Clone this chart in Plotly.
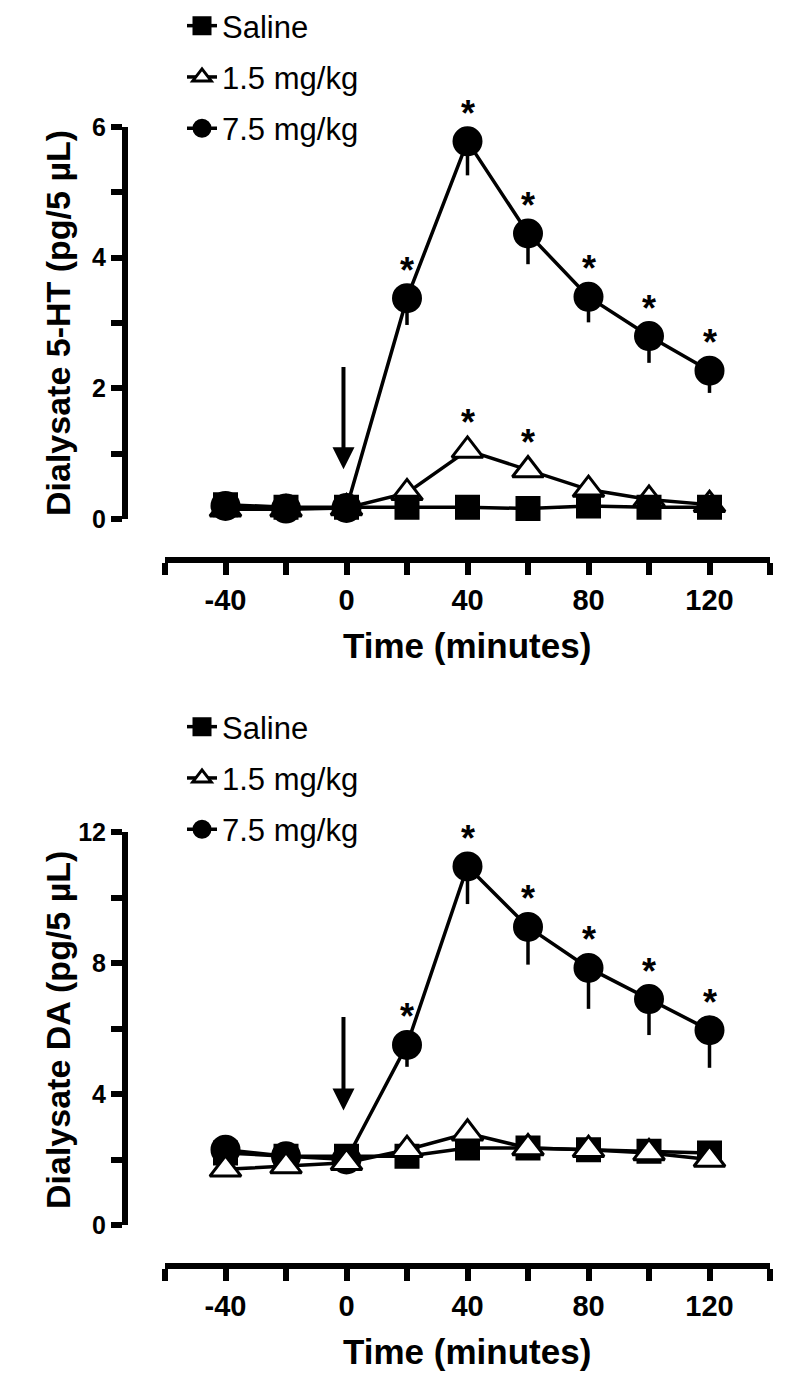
import plotly.graph_objects as go

# ---------------- data ----------------
time_min = [-40, -20, 0, 20, 40, 60, 80, 100, 120]
series_names = ["Saline", "1.5 mg/kg", "7.5 mg/kg"]

# Panel A: Dialysate 5-HT (pg/5 uL)
ht_saline = [0.22, 0.18, 0.18, 0.18, 0.18, 0.16, 0.20, 0.18, 0.18]
ht_low = [0.15, 0.15, 0.17, 0.40, 1.05, 0.75, 0.45, 0.30, 0.22]
ht_high = [0.20, 0.16, 0.17, 3.38, 5.78, 4.37, 3.40, 2.80, 2.27]
ht_high_err = [0, 0, 0, 0.41, 0.52, 0.47, 0.39, 0.41, 0.34]
ht_star_high = [20, 40, 60, 80, 100, 120]
ht_star_low = [40, 60]

# Panel B: Dialysate DA (pg/5 uL)
da_saline = [2.20, 2.10, 2.10, 2.10, 2.35, 2.35, 2.30, 2.25, 2.20]
da_low = [1.70, 1.80, 1.90, 2.30, 2.80, 2.35, 2.30, 2.20, 2.00]
da_high = [2.30, 2.10, 2.00, 5.50, 10.95, 9.10, 7.85, 6.90, 5.95]
da_high_err = [0, 0, 0, 0.67, 1.15, 1.15, 1.25, 1.10, 1.15]
da_star_high = [20, 40, 60, 80, 100, 120]

x_ticks = [-60, -40, -20, 0, 20, 40, 60, 80, 100, 120, 140]
x_ticklabels = ["", "-40", "", "0", "", "40", "", "80", "", "120", ""]
ht_yticks = [0, 1, 2, 3, 4, 5, 6]
ht_yticklabels = ["0", "", "2", "", "4", "", "6"]
da_yticks = [0, 2, 4, 6, 8, 10, 12]
da_yticklabels = ["0", "", "4", "", "8", "", "12"]

# ---------------- styling ----------------
OFF = 8  # default page body margin
W, H = 800 - OFF, 1388 - OFF
BLACK = "#000000"
SANS = "Liberation Sans, Arial, sans-serif"
LW = 3.5
AXW = 6


def px(sx):
    return (sx - OFF) / W


def py(sy):
    return 1 - (sy - OFF) / H


fig = go.Figure()


def add_series(panel, name, y, symbol, fill, size, err=None, legend="legend", rank=1):
    xa = "x" if panel == 1 else "x2"
    ya = "y" if panel == 1 else "y2"
    kw = {}
    if err is not None:
        kw["error_y"] = dict(type="data", symmetric=False, array=[0] * len(err),
                             arrayminus=err, width=0, thickness=LW, color=BLACK)
    fig.add_trace(go.Scatter(
        x=time_min, y=y, name=name, mode="lines+markers",
        line=dict(color=BLACK, width=LW),
        marker=dict(symbol=symbol, size=size, color=fill,
                    line=dict(color=BLACK, width=3)),
        xaxis=xa, yaxis=ya, cliponaxis=False,
        legend=legend, legendrank=rank, legendgroup=f"{legend}{rank}",
        **kw))


# top panel: triangles, circles, squares (squares on top)
add_series(1, series_names[1], ht_low, "triangle-up", "white", 27, legend="legend", rank=2)
add_series(1, series_names[2], ht_high, "circle", BLACK, 27, err=ht_high_err, legend="legend", rank=3)
add_series(1, series_names[0], ht_saline, "square", BLACK, 22, legend="legend", rank=1)
# bottom panel: circles, squares, triangles
add_series(2, series_names[2], da_high, "circle", BLACK, 27, err=da_high_err, legend="legend2", rank=3)
add_series(2, series_names[0], da_saline, "square", BLACK, 22, legend="legend2", rank=1)
add_series(2, series_names[1], da_low, "triangle-up", "white", 27, legend="legend2", rank=2)

annotations = []


def star(xref, yref, x, y, shift):
    annotations.append(dict(x=x, y=y, xref=xref, yref=yref, text="*", showarrow=False,
                            yshift=shift, xanchor="center", yanchor="middle",
                            font=dict(family=SANS, size=36, color=BLACK, weight="bold")))


for t in ht_star_high:
    star("x", "y", t, ht_high[time_min.index(t)], 28)
for t in ht_star_low:
    star("x", "y", t, ht_low[time_min.index(t)], 28)
for t in da_star_high:
    star("x2", "y2", t, da_high[time_min.index(t)], 28)

# injection arrows
annotations.append(dict(x=-1, y=0.76, ax=-1, ay=2.35, xref="x", yref="y", axref="x", ayref="y",
                        showarrow=True, arrowhead=2, arrowsize=1.1, arrowwidth=4, arrowcolor=BLACK, text=""))
annotations.append(dict(x=-1, y=3.5, ax=-1, ay=6.4, xref="x2", yref="y2", axref="x2", ayref="y2",
                        showarrow=True, arrowhead=2, arrowsize=1.1, arrowwidth=4, arrowcolor=BLACK, text=""))


def ytitle(text, ypx):
    annotations.append(dict(x=px(58), y=py(ypx), xref="paper", yref="paper", text=text,
                            textangle=-90, showarrow=False, xanchor="center", yanchor="middle",
                            font=dict(family=SANS, size=34, color=BLACK, weight="bold")))


def xtitle(text, ypx):
    annotations.append(dict(x=px(467), y=py(ypx), xref="paper", yref="paper", text=text,
                            showarrow=False, xanchor="center", yanchor="middle",
                            font=dict(family=SANS, size=35, color=BLACK, weight="bold")))


ytitle("Dialysate 5-HT (pg/5 µL)", 323)
ytitle("Dialysate DA (pg/5 µL)", 1030)
xtitle("Time (minutes)", 645)
xtitle("Time (minutes)", 1351)

xcommon = dict(range=[-60, 140], domain=[px(165), px(770)], anchor="free", showline=True,
               linewidth=AXW, linecolor=BLACK, ticks="outside", ticklen=12, tickwidth=AXW,
               tickcolor=BLACK, tickvals=x_ticks, ticktext=x_ticklabels, showgrid=False,
               zeroline=False, ticklabelstandoff=0,
               tickfont=dict(family=SANS, size=29, color=BLACK, weight="bold"))
ycommon = dict(anchor="free", position=px(125), showline=True, linewidth=AXW, linecolor=BLACK,
               ticks="outside", ticklen=11, tickwidth=AXW, tickcolor=BLACK, showgrid=False,
               zeroline=False, tickfont=dict(family=SANS, size=25, color=BLACK, weight="bold"))

legcommon = dict(x=px(182), xanchor="left", yanchor="top", bgcolor="rgba(0,0,0,0)",
                 font=dict(family=SANS, size=31, color=BLACK), traceorder="grouped",
                 tracegroupgap=8, itemwidth=30)

fig.update_layout(
    width=W, height=H, margin=dict(l=0, r=0, t=0, b=0, autoexpand=False),
    paper_bgcolor="white", plot_bgcolor="rgba(0,0,0,0)",
    xaxis=dict(**xcommon, position=py(560)),
    xaxis2=dict(**xcommon, position=py(1266)),
    yaxis=dict(**ycommon, domain=[py(519), py(127)], range=[0, 6],
               tickvals=ht_yticks, ticktext=ht_yticklabels),
    yaxis2=dict(**ycommon, domain=[py(1225), py(832)], range=[0, 12],
                tickvals=da_yticks, ticktext=da_yticklabels),
    legend=dict(**legcommon, y=py(-1)),
    legend2=dict(**legcommon, y=py(700)),
    annotations=annotations,
    showlegend=True,
)

fig.write_html("out.html")
